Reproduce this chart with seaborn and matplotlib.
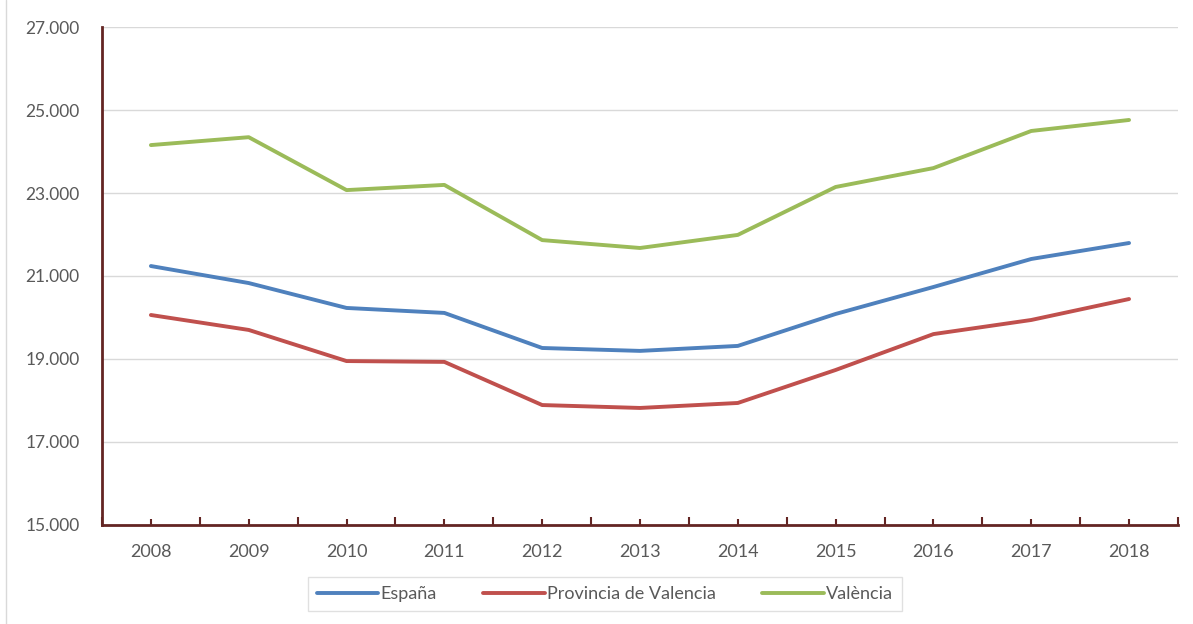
import pandas as pd
import numpy as np
import matplotlib
matplotlib.use("Agg")
import matplotlib.pyplot as plt
from matplotlib.ticker import FuncFormatter, MultipleLocator
import seaborn as sns

years = [2008, 2009, 2010, 2011, 2012, 2013, 2014, 2015, 2016, 2017, 2018]
espana = [21240, 20830, 20230, 20110, 19265, 19195, 19315, 20085, 20735, 21410, 21795]
provincia = [20060, 19700, 18950, 18930, 17890, 17820, 17940, 18735, 19600, 19940, 20445]
valencia = [24155, 24345, 23070, 23195, 21865, 21675, 21990, 23145, 23600, 24495, 24760]
series_names = ["España", "Provincia de Valencia", "València"]
colors = ["#4f81bd", "#c0504d", "#9bbb59"]

df = pd.DataFrame({"year": years, series_names[0]: espana,
                   series_names[1]: provincia, series_names[2]: valencia})
long = df.melt(id_vars="year", var_name="serie", value_name="valor")

sns.set_style("white")
plt.rcParams["font.family"] = ["Lato", "DejaVu Sans"]

fig = plt.figure(figsize=(11.93, 6.24), dpi=100)
ax = fig.add_axes([0.0855, 0.1587, 0.9019, 0.798])

sns.lineplot(data=long, x="year", y="valor", hue="serie", hue_order=series_names,
             palette=colors, linewidth=2.8, ax=ax, legend=True)

ax.set_xlim(2007.5, 2018.5)
ax.set_ylim(15000, 27000)
ax.set_yticks(np.arange(15000, 27001, 2000))
ax.yaxis.set_major_formatter(FuncFormatter(lambda v, p: f"{int(v):,}".replace(",", ".")))
ax.set_xticks(years)
ax.xaxis.set_minor_locator(MultipleLocator(1, offset=0.5))
ax.grid(axis="y", color="#d9d9d9", linewidth=1)
ax.set_axisbelow(True)
ax.set_xlabel("")
ax.set_ylabel("")

spine_col = "#632523"
for s in ["top", "right"]:
    ax.spines[s].set_visible(False)
for s in ["left", "bottom"]:
    ax.spines[s].set_color(spine_col)
    ax.spines[s].set_linewidth(2)

ax.tick_params(axis="x", which="both", bottom=True)
ax.tick_params(axis="x", which="major", direction="in", length=4, width=1.5,
               color=spine_col, labelsize=13, labelcolor="#595959", pad=14)
ax.tick_params(axis="x", which="minor", direction="in", length=6, width=1.5,
               color=spine_col)
ax.tick_params(axis="y", length=0, labelsize=12.5, labelcolor="#595959", pad=16)

handles, labels = ax.get_legend_handles_labels()
ax.legend(handles, labels, loc="center", bbox_to_anchor=(0.507, 0.048),
          bbox_transform=fig.transFigure, ncol=3, frameon=True, fancybox=False,
          edgecolor="#d9d9d9", fontsize=13, handlelength=3.4, handletextpad=0.1,
          columnspacing=2.6, labelcolor="#595959", borderpad=0.5,
          borderaxespad=0)
ax.get_legend().get_frame().set_linewidth(1)

fig.add_artist(plt.Line2D([0.005, 0.005], [0, 1], transform=fig.transFigure,
                          color="#d9d9d9", linewidth=1))

fig.savefig("out.png", dpi=100)
